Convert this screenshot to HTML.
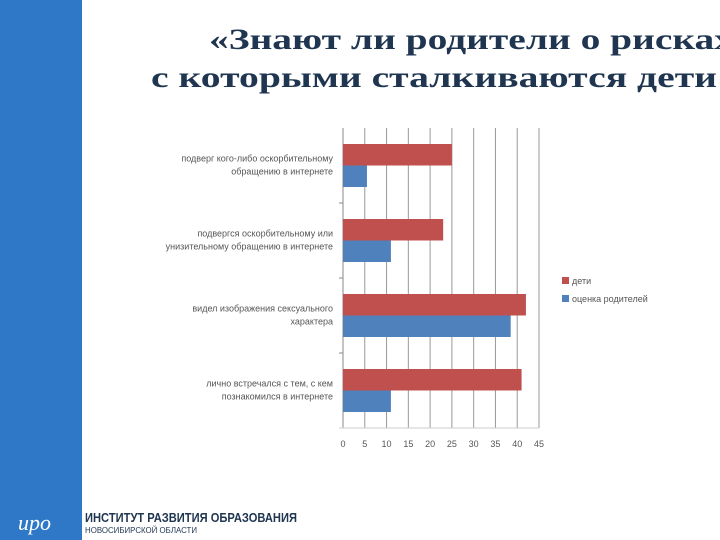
<!DOCTYPE html>
<html><head><meta charset="utf-8"><style>
html,body{margin:0;padding:0;background:#fff;}
svg{display:block;}
</style></head><body>
<svg width="720" height="540" viewBox="0 0 720 540" xmlns="http://www.w3.org/2000/svg" font-family="Liberation Sans, sans-serif">
<rect x="0" y="0" width="82" height="540" fill="#2f78c8"/>
<text x="209" y="49" font-family="Liberation Serif, serif" font-weight="bold" font-size="30" fill="#1f3550" textLength="525" lengthAdjust="spacingAndGlyphs">«Знают ли родители о рисках</text>
<text x="151" y="87" font-family="Liberation Serif, serif" font-weight="bold" font-size="30" fill="#1f3550" textLength="566" lengthAdjust="spacingAndGlyphs">с которыми сталкиваются дети</text>
<g id="chart"></g>
<g>
<rect x="562" y="277" width="7" height="7" fill="#c0504d"/>
<text x="572" y="284" font-size="9" fill="#555">дети</text>
<rect x="562" y="295" width="7" height="7" fill="#4f81bd"/>
<text x="572" y="302" font-size="9" fill="#555">оценка родителей</text>
</g>
<g>
<text x="18" y="530" font-family="Liberation Serif, serif" font-style="italic" font-size="22" fill="#fff">ирo</text>
<text x="85" y="522" font-weight="bold" font-size="13" fill="#1f3550" textLength="212" lengthAdjust="spacingAndGlyphs">ИНСТИТУТ РАЗВИТИЯ ОБРАЗОВАНИЯ</text>
<text x="85" y="533" font-size="8.5" fill="#1f3550" textLength="112" lengthAdjust="spacingAndGlyphs">НОВОСИБИРСКОЙ ОБЛАСТИ</text>
</g>
</svg>
<script>
const categories=[["подверг кого-либо оскорбительному","обращению в интернете"],["подвергся оскорбительному или","унизительному обращению в интернете"],["видел изображения сексуального","характера"],["лично встречался с тем, с кем","познакомился в интернете"]];
const childValues=[25,23,42,41];
const parentValues=[5.5,11,38.5,11];
const ticks=[0,5,10,15,20,25,30,35,40,45];
const NS="http://www.w3.org/2000/svg";
const g=document.getElementById('chart');
const x0=343,x1=539,yTop=128,yBot=428,vmax=45;
const xs=v=>x0+(v/vmax)*(x1-x0);
const band=(yBot-yTop)/categories.length;
function mk(t,a){const e=document.createElementNS(NS,t);for(const k in a)e.setAttribute(k,a[k]);g.appendChild(e);return e;}
ticks.forEach((t,i)=>{
 if(t>0){const l=mk('line',{x1:xs(t),x2:xs(t),y1:yTop,y2:yBot,stroke:'#999','stroke-width':1});
 
 }
 const tx=mk('text',{x:xs(t),y:447,'font-size':9,fill:'#555','text-anchor':'middle'});tx.textContent=t;
 
 
});
const ax=mk('line',{x1:x0,x2:x0,y1:yTop,y2:yBot,stroke:'#888'});


const bx=mk('line',{x1:x0-4,x2:x1,y1:yBot,y2:yBot,stroke:'#ccc'});


categories.forEach((c,i)=>{
 const y=yTop+band*i;
 if(i>0){const tk=mk('line',{x1:x0-4,x2:x0,y1:y,y2:y,stroke:'#888'});
 
 }
 const bh=21.5,top=y+band/2-bh;
 const r=mk('rect',{x:x0,y:top,width:xs(childValues[i])-x0,height:bh,fill:'#c0504d'});
 
 
 const b=mk('rect',{x:x0,y:top+bh,width:xs(parentValues[i])-x0,height:bh,fill:'#4f81bd'});
 
 
 c.forEach((ln,j)=>{const t=mk('text',{x:333,y:y+band/2-4+j*13,'font-size':9,fill:'#555','text-anchor':'end'});t.textContent=ln;
 
 });
});
</script>
</body></html>
